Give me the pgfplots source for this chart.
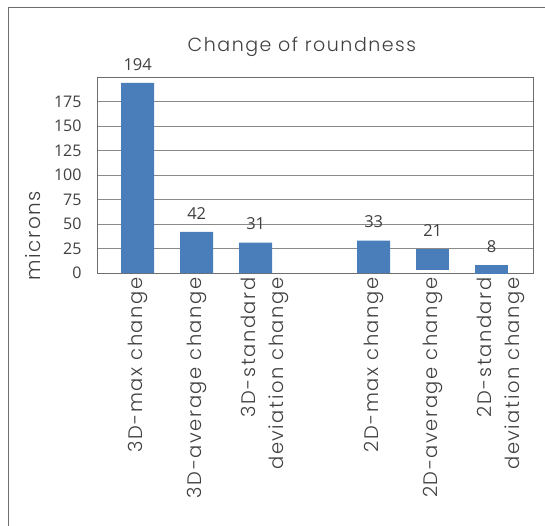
\documentclass[border=0pt]{standalone}
\usepackage{pgfplots}
\pgfplotsset{compat=1.18}
\usepackage{fontspec}
\setmainfont{Poppins}[UprightFont=* Light]
\newfontfamily\lab{Poppins}[UprightFont=* Light, LetterSpace=8]
\newfontfamily\numfont{Open Sans}
\definecolor{barblue}{HTML}{4A7EBB}
\definecolor{txt}{HTML}{404040}
\definecolor{gridc}{HTML}{8A8A8A}
\definecolor{framec}{HTML}{6E6E6E}
\begin{document}
\begin{tikzpicture}
% outer chart frame
\draw[framec, line width=1pt] (8.5pt,-2pt) -- (8.5pt,517pt) -- (547pt,517pt);
\begin{axis}[
  at={(97pt,252pt)}, anchor=south west,
  scale only axis, width=436pt, height=196pt,
  xmin=-0.69, xmax=6.7,
  ymin=0, ymax=200,
  ytick={0,25,...,175},
  xtick={0,1,2.15,4,5,6.15},
  xticklabels={3D-max change,3D-average change,{3D-standard\\deviation change},2D-max change,2D-average change,{2D-standard\\deviation change}},
  major tick length=0pt,
  ymajorgrids, grid style={gridc, line width=0.9pt},
  axis line style={framec, line width=0.9pt},
  /pgf/number format/assume math mode=true,
  yticklabel style={font=\numfont\fontsize{16}{18}\selectfont, text=txt, xshift=-12pt},
  xticklabel style={font=\lab\fontsize{19.5}{28}\selectfont, text=txt, rotate=90, anchor=east, align=right, xshift=-1pt},
  ylabel={microns},
  ylabel style={font=\lab\fontsize{20}{22}\selectfont, text=txt, at={(axis description cs:-0.147,0.19)}, anchor=center},
  title={Change of roundness},
  title style={font=\lab\fontsize{19}{24}\selectfont, text=txt, at={(axis description cs:0.47,1.122)}, anchor=center},
  every node near coord/.append style={font=\numfont\fontsize{16.5}{18}\selectfont, text=txt, anchor=south, yshift=9pt},
]
% bars standing on the axis
\addplot[ybar, bar width=33pt, bar shift=0pt, fill=barblue, draw=none,
  nodes near coords, point meta=explicit symbolic] coordinates {
  (0,194) [194]
  (1,42) [42]
  (2,31) [31]
  (4,33) [33]
};
% bars that do not start at zero
\addplot[fill=barblue, draw=none] coordinates {(4.72,3) (5.28,3) (5.28,24) (4.72,24)} -- cycle;
\addplot[fill=barblue, draw=none] coordinates {(5.72,-1) (6.28,-1) (6.28,8) (5.72,8)} -- cycle;
% their value labels
\addplot[draw=none, mark=none, nodes near coords, point meta=explicit symbolic] coordinates {
  (5,24) [21]
  (6,8) [8]
};
\end{axis}
\pgfresetboundingbox
\useasboundingbox (0,0) rectangle (545pt,525pt);
\end{tikzpicture}
\end{document}
